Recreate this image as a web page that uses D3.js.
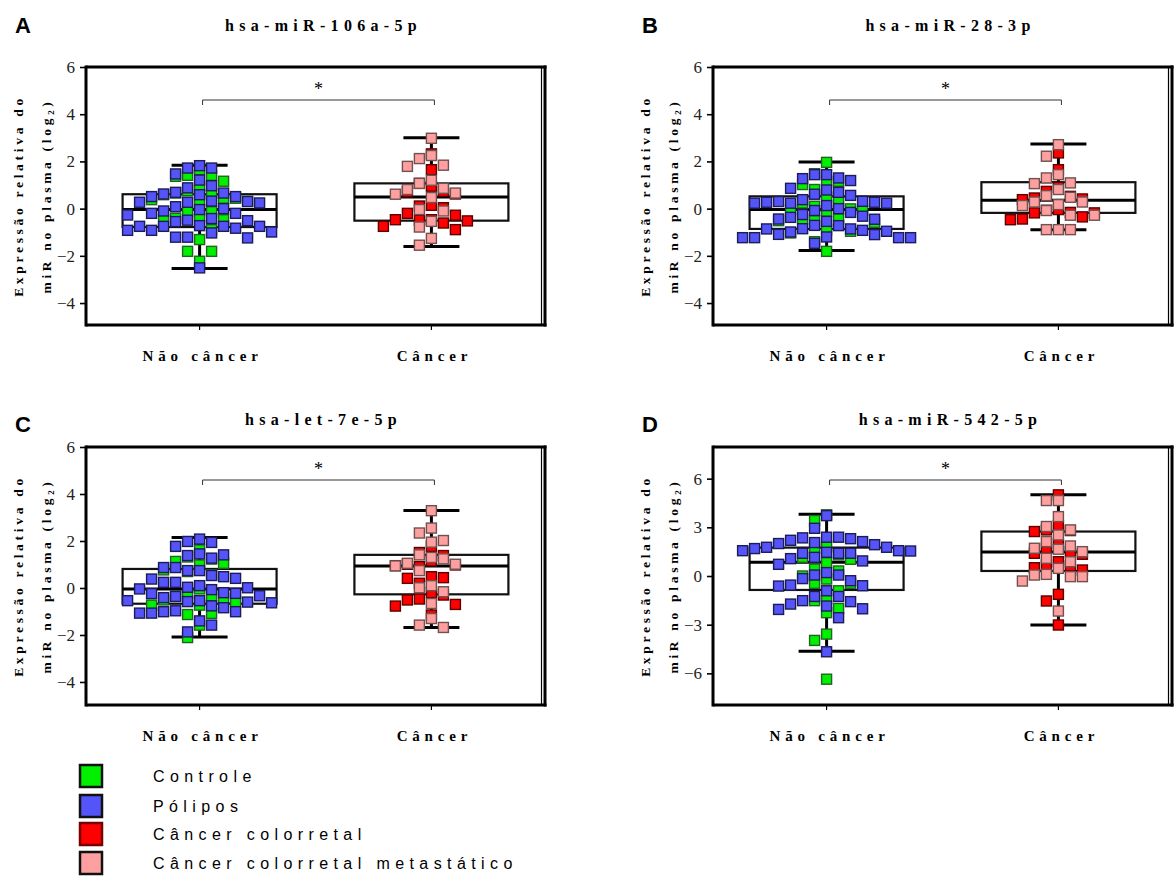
<!DOCTYPE html>
<html>
<head>
<meta charset="utf-8">
<script src="https://cdn.jsdelivr.net/npm/d3@7"></script>
<style>
body { margin:0; background:#fff; }
svg { display:block; }
</style>
</head>
<body>
<svg id="chart" width="1176" height="877"></svg>
<script>
// labels
var categories = ["Não câncer", "Câncer"];
var legendLabels = ["Controle", "Pólipos", "Câncer colorretal", "Câncer colorretal metastático"];
var titles = ["hsa-miR-106a-5p", "hsa-miR-28-3p", "hsa-let-7e-5p", "hsa-miR-542-5p"];
var letters = ["A", "B", "C", "D"];
var ticksABC = [-4, -2, 0, 2, 4, 6];
var ticksD = [-6, -3, 0, 3, 6];

// A  hsa-miR-106a-5p
var a_controle = [1.41,1.37,1.41,1.65,0.95,1.16,0.44,0.31,0.59,0.66,0.76,0.44,0.35,-0.13,-0.13,-0.41,-0.48,-0.34,-0.89,-1.31,-1.81,-1.81,-2.23,-0.47,0.66,0.38];
var a_polipos = [1.72,1.82,1.72,1.47,1.21,0.97,0.88,0.66,0.59,0.62,0.69,0.51,0.51,0.30,0.27,0.24,0.27,0.32,0.08,0.0,-0.04,-0.10,-0.20,-0.27,-0.20,-0.49,-0.55,-0.51,-0.42,-0.75,-0.75,-0.83,-0.92,-1.03,-1.21,-1.24,-1.21,-0.99,-0.92,-0.75,-0.75,-0.72,-2.51];
var a_ccr = [2.32,1.65,1.07,0.71,0.62,0.73,0.95,0.11,0.04,0.14,-0.20,-0.28,-0.47,-0.49,-0.61,-0.52,-0.47,-0.89,-0.75];
var a_ccrm = [2.98,2.25,2.12,1.84,1.79,1.20,1.07,0.81,0.61,0.66,0.86,0.47,-0.10,-0.04,-0.54,-0.78,-1.26,-1.55];
var a_boxNC = [-2.54,-0.78,-0.04,0.61,1.84];   // min q1 med q3 max
var a_boxC = [-1.6,-0.51,0.49,1.07,3.0];

// B  hsa-miR-28-3p
var b_controle = [1.96,1.48,1.16,1.02,1.16,0.49,0.31,0.81,0.10,0.24,-0.01,-0.08,-0.11,-0.04,-0.44,-0.51,-0.58,-0.51,-0.44,-0.89,-1.81,-1.40,-0.96,-1.03];
var b_polipos = [1.44,1.30,1.19,1.27,1.44,0.86,0.69,0.56,0.61,0.79,0.30,0.27,0.23,0.13,0.38,-0.25,-0.08,-0.16,0.0,0.23,0.23,0.27,0.31,-0.32,-0.45,-0.54,-0.72,-0.86,-0.86,-0.85,-0.71,-0.44,-0.37,-0.92,-0.99,-1.10,-1.23,-1.23,-1.47,-1.23,-1.23,-1.20,-1.09,-0.96];
var b_ccr = [2.36,1.65,0.73,0.90,0.41,0.38,0.45,0.52,-0.07,-0.18,-0.35,-0.47,-0.18,-0.16,-0.04,-0.44];
var b_ccrm = [2.71,2.22,1.44,1.09,1.06,1.30,0.81,0.48,0.55,0.28,0.13,0.17,0.28,-0.28,-0.28,-0.08,-0.89,-0.89,-0.89];
var b_boxNC = [-1.77,-0.86,-0.04,0.52,1.98];
var b_boxC = [-0.89,-0.18,0.35,1.12,2.74];

// C  hsa-let-7e-5p
var c_controle = [1.62,1.05,1.23,1.13,1.32,0.98,0.77,0.56,0.70,-0.33,-0.44,-0.51,-0.73,-1.13,-0.73,-0.58,-1.08,-0.34,-0.23,-1.58,-2.11,-0.04];
var c_polipos = [1.98,2.08,1.94,1.77,1.41,1.45,1.27,1.38,0.74,0.87,0.87,0.74,0.53,0.41,0.38,0.48,0.24,0.24,0.10,0.01,-0.07,-0.23,-0.33,-0.41,-0.36,-0.24,-0.20,-0.04,0.03,-0.54,-0.58,-0.63,-0.84,-1.01,-1.07,-1.07,-1.01,-0.97,-0.76,-0.60,-0.54,-1.40,-1.58,-1.87];
var c_ccr = [1.77,1.38,1.51,0.98,0.95,0.91,1.01,1.15,0.44,0.20,0.41,0.48,-0.20,-0.51,-0.47,-0.30,-0.70,-0.77,-1.15];
var c_ccrm = [3.29,2.55,2.34,2.02,1.95,1.41,1.30,1.05,0.94,1.01,1.24,0.74,0.10,0.01,-0.16,-0.66,-1.30,-1.68,-1.58];
var c_boxNC = [-2.09,-0.67,-0.04,0.81,2.15];
var c_boxC = [-1.68,-0.27,0.94,1.41,3.30];

// D  hsa-miR-542-5p
var d_controle = [3.77,3.42,0.0,-0.45,-0.45,-0.91,0.43,-0.19,0.31,0.82,1.15,1.30,1.81,-1.38,-2.0,-2.26,-1.52,-3.58,-3.97,-6.36,1.71,1.03];
var d_polipos = [3.72,2.94,2.39,2.30,2.12,2.0,1.77,1.69,1.56,1.77,1.93,2.06,2.20,2.35,2.39,1.54,1.40,1.40,1.07,0.72,0.93,1.15,1.40,1.46,1.56,0.21,0.06,-0.29,-0.60,-0.62,-0.56,-0.16,0.06,-0.91,-1.26,-1.52,-1.85,-1.73,-2.06,-1.58,-2.02,-1.26,-2.57,-4.67];
var d_ccr = [5.0,2.80,2.84,2.74,1.98,3.11,1.71,0.88,1.34,1.40,0.68,0.62,0.37,0.51,-1.13,-1.54,-3.02,1.50];
var d_ccrm = [4.65,4.65,3.66,3.05,2.84,2.53,2.12,1.85,1.65,1.50,1.09,0.88,0.47,0.06,-0.04,-0.31,-0.04,0.10,-2.16,1.71];
var d_boxNC = [-4.63,-0.86,0.84,1.75,3.81];
var d_boxC = [-3.02,0.31,1.48,2.74,5.0];

var fills = ["#00f000", "#5454f8", "#ff0000", "#ffa0a0"];
var strokes = ["#236323", "#1c1c58", "#5c0000", "#705050"];
var serif = "'Liberation Serif','Times New Roman',serif";
var sans = "'Liberation Sans',Arial,sans-serif";

var svg = d3.select("#chart");

var panels = [
	{ left: 86, top: 67, right: 545, bottom: 325, domain: [-4.93, 6], ticks: ticksABC,
	  sets: [a_controle, a_polipos, a_ccr, a_ccrm], boxes: [a_boxNC, a_boxC] },
	{ left: 713, top: 67, right: 1172, bottom: 325, domain: [-4.93, 6], ticks: ticksABC,
	  sets: [b_controle, b_polipos, b_ccr, b_ccrm], boxes: [b_boxNC, b_boxC] },
	{ left: 86, top: 447, right: 545, bottom: 705, domain: [-4.98, 6], ticks: ticksABC,
	  sets: [c_controle, c_polipos, c_ccr, c_ccrm], boxes: [c_boxNC, c_boxC] },
	{ left: 713, top: 447, right: 1172, bottom: 705, domain: [-7.95, 7.95], ticks: ticksD,
	  sets: [d_controle, d_polipos, d_ccr, d_ccrm], boxes: [d_boxNC, d_boxC] }
];

// prism-like column scatter: each point goes to the free slot nearest the centre,
// on the side that is less crowded at that height
function dodge(vals, y, cx, step, h){
	var placed = [], out = [];
	var order = vals.map(function(v, i){ return i; }).sort(function(a, b){ return vals[b] - vals[a]; });
	order.forEach(function(i){
		var py = y(vals[i]);
		var near = placed.filter(function(p){ return Math.abs(p.y - py) < h; });
		var free = function(s){ return !near.some(function(p){ return p.slot === s; }); };
		var left = near.filter(function(p){ return p.slot < 0; }).length;
		var right = near.filter(function(p){ return p.slot > 0; }).length;
		var slot = 0;
		if(!free(0)){
			for(var k = 1; k < 40; k++){
				var a = left <= right ? -k : k;
				if(free(a)){ slot = a; break; }
				if(free(-a)){ slot = -a; break; }
			}
		}
		placed.push({slot: slot, y: py});
		out.push({x: cx + slot*step, y: py});
	});
	return out;
}

panels.forEach(function(p, pi){
	var g = svg.append("g");
	var y = d3.scaleLinear().domain(p.domain).range([p.bottom, p.top]);
	var x = d3.scalePoint().domain(categories).range([p.left, p.right]).padding(0.49);
	var mid = (p.left + p.right)/2;

	// letter + title
	g.append("text").attr("x", p.left - 71).attr("y", pi < 2 ? 33 : 432)
		.style("font-family", sans).style("font-weight", "bold").style("font-size", "22px")
		.text(letters[pi]);
	g.append("text").attr("x", mid + 8).attr("y", pi < 2 ? 31 : 425)
		.attr("text-anchor", "middle")
		.style("font-family", serif).style("font-weight", "bold").style("font-size", "16px")
		.style("letter-spacing", "5.3px")
		.text(titles[pi]);

	// y axis title (two lines)
	var cy = (p.top + p.bottom)/2;
	g.append("text").attr("transform", "translate(" + (p.left - 63) + "," + cy + ") rotate(-90)")
		.attr("text-anchor", "middle")
		.style("font-family", serif).style("font-weight", "bold").style("font-size", "13.5px")
		.style("letter-spacing", "3.7px")
		.text("Expressão relativa do");
	var t2 = g.append("text").attr("transform", "translate(" + (p.left - 35) + "," + cy + ") rotate(-90)")
		.attr("text-anchor", "middle")
		.style("font-family", serif).style("font-weight", "bold").style("font-size", "13.5px")
		.style("letter-spacing", "3.7px");
	t2.append("tspan").text("miR no plasma (log");
	t2.append("tspan").attr("dy", 3).style("font-size", "9px").text("2");
	t2.append("tspan").attr("dy", -3).text(")");

	// y axis ticks
	var ax = g.append("g").attr("transform", "translate(" + p.left + ",0)")
		.call(d3.axisLeft(y).tickValues(p.ticks).tickSize(6).tickPadding(5));
	ax.select(".domain").remove();
	ax.selectAll("line").attr("stroke", "#000").attr("stroke-width", 1.6);
	ax.selectAll("text").style("font-family", serif).style("font-size", "17px").attr("fill", "#222");

	// boxes and whiskers
	p.boxes.forEach(function(b, bi){
		var cx = x(categories[bi]);
		g.append("rect").attr("x", cx - 77).attr("y", y(b[3])).attr("width", 154).attr("height", y(b[1]) - y(b[3]))
			.attr("fill", "#fff").attr("stroke", "#111").attr("stroke-width", 2.2);
		g.append("line").attr("x1", cx - 77).attr("x2", cx + 77).attr("y1", y(b[2])).attr("y2", y(b[2]))
			.attr("stroke", "#000").attr("stroke-width", 3);
		g.append("line").attr("x1", cx).attr("x2", cx).attr("y1", y(b[4])).attr("y2", y(b[3]))
			.attr("stroke", "#000").attr("stroke-width", 3);
		g.append("line").attr("x1", cx).attr("x2", cx).attr("y1", y(b[1])).attr("y2", y(b[0]))
			.attr("stroke", "#000").attr("stroke-width", 3);
		[b[0], b[4]].forEach(function(v){
			g.append("line").attr("x1", cx - 28).attr("x2", cx + 28).attr("y1", y(v)).attr("y2", y(v))
				.attr("stroke", "#000").attr("stroke-width", 3);
		});
		// small tick on x axis
		g.append("line").attr("x1", cx).attr("x2", cx).attr("y1", p.bottom).attr("y2", p.bottom + 5)
			.attr("stroke", "#000").attr("stroke-width", 1.2);
		g.append("text").attr("x", cx + 3).attr("y", p.bottom + 36).attr("text-anchor", "middle")
			.style("font-family", serif).style("font-weight", "bold").style("font-size", "15px")
			.style("letter-spacing", "4.8px")
			.text(categories[bi]);
	});

	// points: controle, polipos on first column; ccr, ccrm on second
	p.sets.forEach(function(vals, si){
		var cx = x(categories[si < 2 ? 0 : 1]);
		var pts = dodge(vals, y, cx, 12, 14);
		g.selectAll(null).data(pts).enter().append("rect")
			.attr("x", function(d){ return d.x - 5; })
			.attr("y", function(d){ return d.y - 5; })
			.attr("width", 10).attr("height", 10)
			.attr("fill", fills[si]).attr("stroke", strokes[si]).attr("stroke-width", 1.4);
	});

	// significance bracket
	var x1 = x(categories[0]) + 3, x2 = x(categories[1]) + 3, by = p.top + 33;
	g.append("path").attr("d", "M" + x1 + "," + (by + 5) + "V" + by + "H" + x2 + "V" + (by + 5))
		.attr("fill", "none").attr("stroke", "#333").attr("stroke-width", 1);
	g.append("text").attr("x", (x1 + x2)/2).attr("y", by - 5).attr("text-anchor", "middle")
		.style("font-family", serif).style("font-size", "18px").text("*");

	// frame
	g.append("line").attr("x1", p.left).attr("x2", p.right + 1.5).attr("y1", p.top).attr("y2", p.top)
		.attr("stroke", "#000").attr("stroke-width", 3);
	g.append("line").attr("x1", p.left).attr("x2", p.right + 1.5).attr("y1", p.bottom).attr("y2", p.bottom)
		.attr("stroke", "#000").attr("stroke-width", 3);
	g.append("line").attr("x1", p.left).attr("x2", p.left).attr("y1", p.top - 1.5).attr("y2", p.bottom + 1.5)
		.attr("stroke", "#000").attr("stroke-width", 3);
	g.append("line").attr("x1", p.right - 3.5).attr("x2", p.right - 3.5).attr("y1", p.top).attr("y2", p.bottom)
		.attr("stroke", "#000").attr("stroke-width", 1.2);
	g.append("line").attr("x1", p.right).attr("x2", p.right).attr("y1", p.top - 1.5).attr("y2", p.bottom + 1.5)
		.attr("stroke", "#000").attr("stroke-width", 3);
});

// legend
var leg = svg.append("g");
legendLabels.forEach(function(l, i){
	var ly = [776, 806, 834, 863][i];
	leg.append("rect").attr("x", 80).attr("y", ly - 11).attr("width", 22).attr("height", 22)
		.attr("fill", fills[i]).attr("stroke", i == 2 ? "#700" : "#111").attr("stroke-width", 2.5);
	leg.append("text").attr("x", 153).attr("y", ly + 6)
		.style("font-family", sans).style("font-size", "16px")
		.style("letter-spacing", "5.4px")
		.text(l);
});
</script>
</body>
</html>
